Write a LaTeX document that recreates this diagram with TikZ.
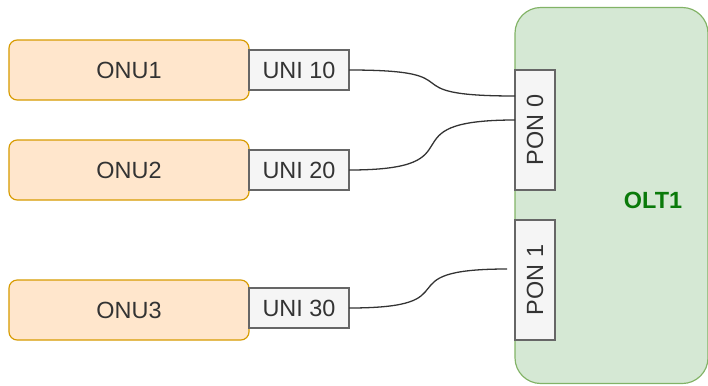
\documentclass[tikz,border=0pt]{standalone}
\usepackage{fontspec}
\setmainfont{Liberation Sans}
\usetikzlibrary{positioning}

\definecolor{onufill}{HTML}{FFE6CC}
\definecolor{onuline}{HTML}{D79B00}
\definecolor{portfill}{HTML}{F5F5F5}
\definecolor{portline}{HTML}{666666}
\definecolor{oltfill}{HTML}{D5E8D4}
\definecolor{oltline}{HTML}{82B366}
\definecolor{olttext}{HTML}{0A7A0A}
\definecolor{txt}{HTML}{333333}

\tikzset{
    onubox/.style={draw=onuline, fill=onufill, line width=1pt, rounded corners=7pt,
        minimum width=7.2cm, minimum height=1.8cm, inner sep=0pt, outer sep=0pt,
        text=txt, font=\fontsize{20}{24}\selectfont},
    unibox/.style={draw=portline, fill=portfill, line width=1pt,
        minimum width=3cm, minimum height=1.2cm, inner sep=0pt, outer sep=0pt,
        text=txt, font=\fontsize{20}{24}\selectfont},
    ponbox/.style={unibox, minimum width=3.6cm, minimum height=1.2cm, rotate=90},
    fibre/.style={draw=txt, line width=1.1pt, out=0, in=180, looseness=2}
}

\begin{document}
\begin{tikzpicture}[x=0.03cm, y=-0.03cm]

\useasboundingbox (0,0) rectangle (708,385);

% OLT with its PON ports
\node[draw=oltline, fill=oltfill, line width=1pt, rounded corners=22pt,
    minimum width=5.79cm, minimum height=11.28cm, inner sep=0pt, outer sep=0pt]
    (olt) at (611.5,195.5) {};
\node[font=\fontsize{20}{24}\selectfont\bfseries, text=olttext] (oltlabel) at (653,200) {OLT1};
\node[ponbox] (pon0) at (535,130) {PON 0};
\node[ponbox] (pon1) at (535,280) {PON 1};

% ONUs
\node[onubox] (onu1) at (129,70) {ONU1};
\node[onubox] (onu2) at (129,170) {ONU2};
\node[onubox] (onu3) at (129,310) {ONU3};

% UNI ports
\node[unibox, right=0pt of onu1] (uni10) {UNI 10};
\node[unibox, right=0pt of onu2] (uni20) {UNI 20};
\node[unibox, anchor=west] (uni30) at (onu3.east |- 0,308) {UNI 30};

% Fibres
\coordinate (in10) at (pon0.north |- 0,96);
\coordinate (in20) at (pon0.north |- 0,120);
\coordinate (in30) at ([xshift=-0.24cm]pon1.north |- 0,269);

\draw[fibre] (uni10.east) to (in10);
\draw[fibre] (uni20.east) to (in20);
\draw[fibre] (uni30.east) to (in30);

\end{tikzpicture}
\end{document}
